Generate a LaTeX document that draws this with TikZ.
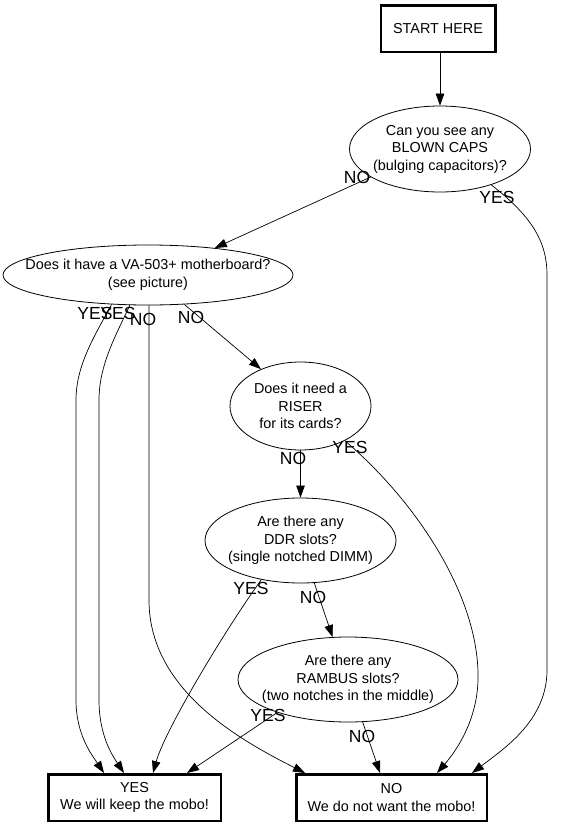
\documentclass[tikz,border=0pt]{standalone}
\usepackage{fontspec}
\setmainfont{Liberation Sans}
\usetikzlibrary{arrows.meta,shapes.geometric}
\begin{document}
\begin{tikzpicture}[x=1pt,y=-1pt,
  q/.style={draw,ellipse,line width=0.8pt,inner sep=0pt},
  qt/.style={align=center,font=\fontsize{14.4}{17.5}\selectfont,inner sep=0pt},
  box/.style={draw,rectangle,line width=2.5pt,inner sep=0pt,align=center,font=\fontsize{14.4}{17.5}\selectfont},
  lbl/.style={font=\fontsize{17.5}{20}\selectfont,inner sep=0pt},
  e/.style={line width=0.7pt,-{Triangle[length=12pt,width=8.5pt]}}]
\useasboundingbox (0,0) rectangle (565,827);

% nodes
\node[box,minimum width=114.5pt,minimum height=46.5pt] (start) at (438,28.5) {START HERE};
\node[q,minimum width=181pt,minimum height=86pt] (caps) at (440,149) {};
\node[qt] (capsT) at (caps) {Can you see any\\BLOWN CAPS\\(bulging capacitors)?};
\node[q,minimum width=290pt,minimum height=60pt] (va) at (148,275) {};
\node[qt] (vaT) at (va) {Does it have a VA-503+ motherboard?\\(see picture)};
\node[q,minimum width=141pt,minimum height=88pt] (riser) at (300.5,406) {};
\node[qt] (riserT) at (riser) {Does it need a\\RISER\\for its cards?};
\node[q,minimum width=191pt,minimum height=85pt] (ddr) at (300.5,540.5) {};
\node[qt] (ddrT) at (ddr) {Are there any\\DDR slots?\\(single notched DIMM)};
\node[q,minimum width=220pt,minimum height=85pt] (rambus) at (348,679.5) {};
\node[qt] (rambusT) at (rambus) {Are there any\\RAMBUS slots?\\(two notches in the middle)};
\node[box,minimum width=172.5pt,minimum height=46.5pt] (yesbox) at (134.5,797.5) {YES\\We will keep the mobo!};
\node[box,minimum width=190.5pt,minimum height=46.5pt] (nobox) at (391.5,797.5) {NO\\We do not want the mobo!};

% edges
\draw[e] ([xshift=2pt]start.south) -- (caps.north);
\draw[e] (caps.202.5) -- (va.22.8);
\draw[e] (caps.325.8) .. controls (530,215) and (547,240) .. (547,275) -- (547,670) .. controls (547,720) and (505,748) .. ([xshift=80.5pt]nobox.north);
\draw[e] (va.219.8) .. controls (95,335) and (76,365) .. (76,400) -- (76,700) .. controls (76,735) and (92,755) .. ([xshift=-30.5pt]yesbox.north);
\draw[e] (va.239) .. controls (116,335) and (99,365) .. (99,400) -- (99,700) .. controls (99,735) and (112,755) .. ([xshift=-10.5pt]yesbox.north);
\draw[e] (va.272) -- (149,600) .. controls (149,690) and (240,740) .. ([xshift=-86.5pt]nobox.north);
\draw[e] (va.321) -- (riser.137.5);
\draw[e] (riser.south) -- (ddr.north);
\draw[e] (riser.322.6) .. controls (420,505) and (480,600) .. (478,680) .. controls (477,720) and (457,750) .. ([xshift=45.5pt]nobox.north);
\draw[e] (ddr.225.7) .. controls (225,630) and (165,730) .. ([xshift=18.5pt]yesbox.north);
\draw[e] (ddr.288.8) -- (rambus.110.6);
\draw[e] (rambus.205.2) -- ([xshift=52.5pt]yesbox.north);
\draw[e] (rambus.289.9) -- ([xshift=-11.5pt]nobox.north);

% labels
\node[lbl] (l1) at (357,177) {NO};
\node[lbl] (l2) at (497,197) {YES};
\node[lbl] (l3) at (95,313) {YES};
\node[lbl] (l4) at (118,313) {YES};
\node[lbl] (l5) at (143,319) {NO};
\node[lbl] (l6) at (191,317) {NO};
\node[lbl] (l7) at (293,458) {NO};
\node[lbl] (l8) at (350,447) {YES};
\node[lbl] (l9) at (251,588) {YES};
\node[lbl] (l10) at (313,597) {NO};
\node[lbl] (l11) at (268,715) {YES};
\node[lbl] (l12) at (362,736) {NO};
\end{tikzpicture}
\end{document}
